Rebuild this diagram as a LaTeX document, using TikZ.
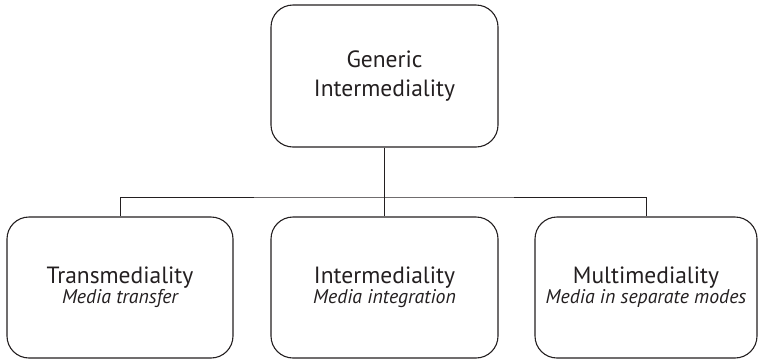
\documentclass[tikz,border=0pt]{standalone}
\usepackage{fontspec}
\setmainfont{PT Sans}
\definecolor{ink}{HTML}{231F20}
\begin{document}
\begin{tikzpicture}[x=1pt,y=-1pt,
  box/.style={draw=ink, line width=1.1pt, rounded corners=22pt, inner sep=0pt,
    minimum height=141pt, align=center, text=ink},
  wire/.style={draw=ink, line width=1pt},
  main/.style={font=\fontsize{23.5}{29}\selectfont},
]
\useasboundingbox (0,0) rectangle (758,360);
\node[box, main, minimum width=227pt, minimum height=142pt] (top) at (384.5,76) {Generic\\Intermediality};
\node[box, minimum width=226pt] (left) at (120,287.5)
  {{\fontsize{23.5}{22}\selectfont Transmediality}\\[0pt]{\fontsize{19.8}{22}\selectfont\itshape Media transfer}};
\node[box, minimum width=227pt] (mid) at (384.5,287.5)
  {{\fontsize{23.5}{22}\selectfont Intermediality}\\[0pt]{\fontsize{19.8}{22}\selectfont\itshape Media integration}};
\node[box, minimum width=222pt] (right) at (646,287.5)
  {{\fontsize{23.5}{22}\selectfont Multimediality}\\[0pt]{\fontsize{19.8}{22}\selectfont\itshape Media in separate modes}};
\coordinate (j) at (384.5,197);
\draw[wire] (top.south) -- (j);
\draw[wire] (left.north) |- (j) -| (right.north);
\draw[wire] (j) -- (mid.north);
\end{tikzpicture}
\end{document}
